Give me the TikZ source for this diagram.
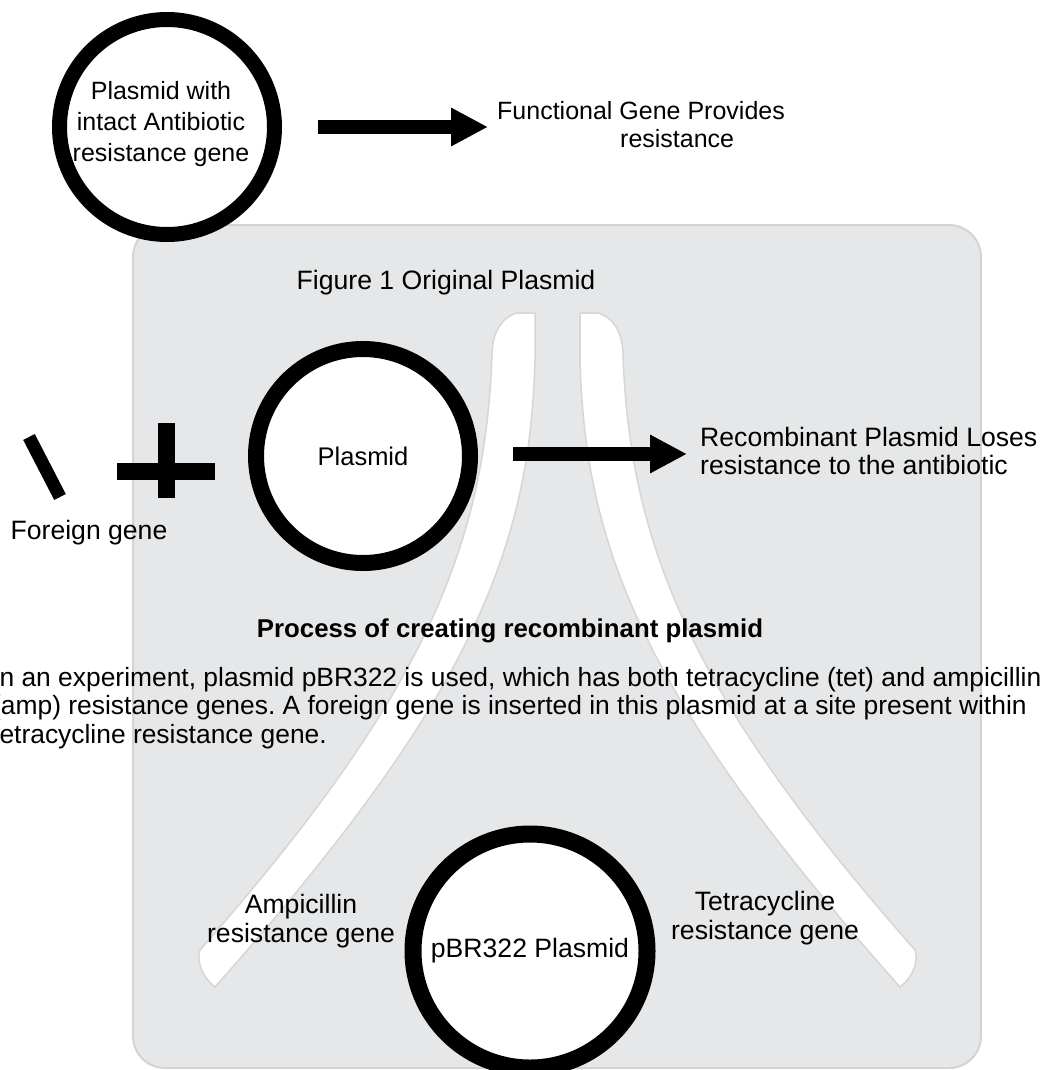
\documentclass[tikz,border=0pt]{standalone}
\usepackage{fontspec}
\setmainfont{Liberation Sans}
\usetikzlibrary{arrows.meta}
\definecolor{boxgray}{HTML}{E6E7E8}
\definecolor{boxedge}{HTML}{D4D4D4}
\definecolor{bandedge}{HTML}{D6D6D6}
\tikzset{
  ring/.style={circle, draw=black, fill=white, inner sep=0pt, align=center},
  lbl/.style={inner sep=0pt, font=\fontsize{26.6}{28.4}\selectfont},
  toplbl/.style={inner sep=0pt, font=\fontsize{25}{28}\selectfont},
  bigarrow/.style={line width=14pt, -{Triangle[length=37pt,width=36pt]}},
  band/.style={fill=white, draw=bandedge, line width=1.5pt},
}
\begin{document}
\frenchspacing
\begin{tikzpicture}[x=1pt,y=-1pt]
\useasboundingbox (0,0) rectangle (1041,1070);
\clip (0,0) rectangle (1041,1070);
% background panel
\draw[fill=boxgray, draw=boxedge, line width=2pt, rounded corners=32pt] (133,225) rectangle (981,1068);
% white bands
\draw[band] (535,313) -- (517,313) .. controls (500,318) and (492,335) .. (492,355)
  .. controls (485,550) and (420,700) .. (200,950)
  .. controls (196,962) and (203,978) .. (215,987)
  .. controls (470,700) and (530,550) .. (535,360) -- cycle;
\draw[band] (580,313) -- (598,313) .. controls (615,318) and (623,335) .. (623,355)
  .. controls (630,550) and (695,700) .. (915,950)
  .. controls (919,962) and (912,978) .. (900,987)
  .. controls (645,700) and (585,550) .. (580,360) -- cycle;
% top row
\node[ring, line width=15pt, minimum size=215pt] (p1) at (167,127) {};
\node[toplbl, align=center, font=\fontsize{25}{31}\selectfont] (p1t) at (161,124) {Plasmid with\\intact Antibiotic\\resistance gene};
\coordinate (a1s) at (318,127);
\coordinate (a1e) at (488,127);
\draw[bigarrow, line width=13pt] (a1s) -- (a1e);
\node[toplbl, anchor=west, align=left] (fgp) at (497,125) {Functional Gene Provides\\\hspace*{123pt}resistance};
% figure caption
\node[lbl] (fig1) at (446,283) {Figure 1 Original Plasmid};
% middle row
\draw[line width=13pt] (29,437) -- (60,497);
\node[lbl] (fgene) at (89,533) {Foreign gene};
\draw[line width=17pt] (117,471) -- (215,471);
\draw[line width=17pt] (166,423) -- (166,498);
\node[ring, line width=16pt, minimum size=214pt, font=\fontsize{25.5}{28}\selectfont] (p2) at (363,456) {Plasmid};
\coordinate (a2s) at (513,454);
\coordinate (a2e) at (687,454);
\draw[bigarrow] (a2s) -- (a2e);
\node[lbl, anchor=west, align=left] (rec) at (700,451) {Recombinant Plasmid Loses\\resistance to the antibiotic};
% title and paragraph
\node[lbl, font=\fontsize{25.8}{28.4}\selectfont\bfseries] (title) at (510,631) {Process of creating recombinant plasmid};
\node[lbl, font=\fontsize{26.4}{28.5}\selectfont, anchor=west, align=left] (para) at (-8,708) {In an experiment, plasmid pBR322 is used, which has both tetracycline (tet) and ampicillin\\(amp) resistance genes. A foreign gene is inserted in this plasmid at a site present within\\tetracycline resistance gene.};
% bottom plasmid
\node[lbl, align=center] (amp) at (301,921) {Ampicillin\\resistance gene};
\node[lbl, align=center] (tet) at (765,918) {Tetracycline\\resistance gene};
\node[ring, line width=17pt, minimum size=234pt, font=\fontsize{26.6}{28.4}\selectfont] (p3) at (530,951) {pBR322 Plasmid};
\end{tikzpicture}
\end{document}
